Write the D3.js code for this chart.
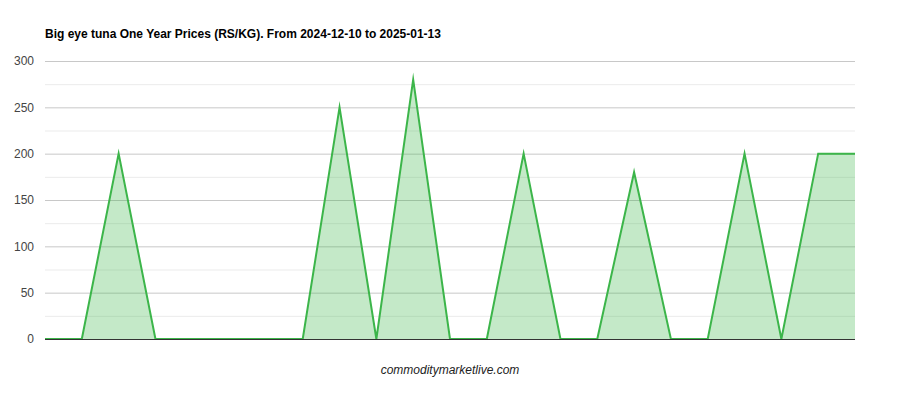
<!DOCTYPE html>
<html><head><meta charset="utf-8">
<script src="https://cdn.jsdelivr.net/npm/d3@7"></script>
<style>body{margin:0;background:#fff;}svg{display:block;font-family:Arial,"Liberation Sans",sans-serif;}</style>
</head><body>
<svg id="c" width="900" height="400"></svg>
<script>
const title = "Big eye tuna One Year Prices (RS/KG). From 2024-12-10 to 2025-01-13";
const footer = "commoditymarketlive.com";
const pointIndex = [0,1,2,3,4,5,6,7,8,9,10,11,12,13,14,15,16,17,18,19,20,21,22];
const prices = [0,0,200,0,0,0,0,0,250,0,280,0,0,200,0,0,180,0,0,200,0,200,200];
const yTicks = [0,50,100,150,200,250,300];
const yMinorTicks = [25,75,125,175,225,275];

const svg = d3.select("#c");
const L=45,R=855,T=61,B=339;
const x = d3.scaleLinear().domain([0, pointIndex.length-1]).range([L,R]);
const y = d3.scaleLinear().domain([0,300]).range([B,T]);

svg.append("defs").append("clipPath").attr("id","plotclip")
  .append("rect").attr("x",L-2).attr("y",T-20).attr("width",R-L+2).attr("height",B-T+21);

svg.append("text").attr("x",45).attr("y",38).attr("font-size",12).attr("font-weight","bold").attr("fill","#000").text(title);

svg.append("g").selectAll("line").data(yMinorTicks).join("line")
  .attr("x1",L).attr("x2",R).attr("y1",d=>y(d)+0.5).attr("y2",d=>y(d)+0.5)
  .attr("stroke","#ebebeb").attr("stroke-width",1);
svg.append("g").selectAll("line").data(yTicks.filter(d=>d>0)).join("line")
  .attr("x1",L).attr("x2",R).attr("y1",d=>y(d)+0.5).attr("y2",d=>y(d)+0.5)
  .attr("stroke","#c8c8c8").attr("stroke-width",1);

const yAxis = d3.axisLeft(y).tickValues(yTicks).tickSize(0).tickPadding(11);
const ga = svg.append("g").attr("transform",`translate(${L},0)`).call(yAxis);
ga.select(".domain").remove();
ga.selectAll("text").attr("font-size",12).attr("fill","#444").attr("font-family","Arial,'Liberation Sans',sans-serif");

const data = pointIndex.map((i,k)=>({i, v:prices[k]}));
const plot = svg.append("g").attr("clip-path","url(#plotclip)");
plot.append("path").datum(data)
  .attr("d", d3.area().x(d=>x(d.i)).y0(y(0)).y1(d=>y(d.v)))
  .attr("fill","#3cb54a").attr("fill-opacity",0.3);
plot.append("path").datum(data)
  .attr("d", d3.line().x(d=>x(d.i)).y(d=>y(d.v)))
  .attr("fill","none").attr("stroke","#3cb54a").attr("stroke-width",2)
  .attr("stroke-linejoin","miter").attr("stroke-miterlimit",10);

svg.append("line").attr("x1",L).attr("x2",R).attr("y1",y(0)+0.5).attr("y2",y(0)+0.5)
  .attr("stroke","#333").attr("stroke-width",1);

svg.append("text").attr("x",450).attr("y",374).attr("text-anchor","middle")
  .attr("font-size",12).attr("font-style","italic").attr("fill","#222").text(footer);
</script>
</body></html>
